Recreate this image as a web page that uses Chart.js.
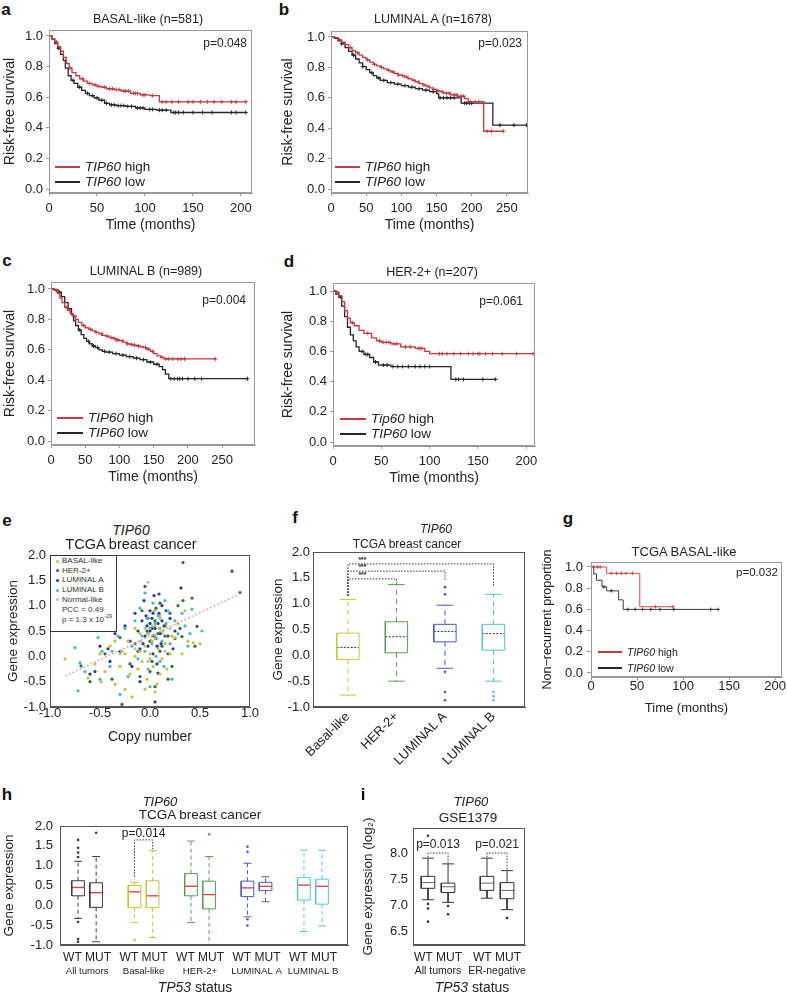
<!DOCTYPE html>
<html>
<head>
<meta charset="utf-8">
<title>TIP60 breast cancer panels</title>
<script src="https://cdn.jsdelivr.net/npm/chart.js@4.4.1/dist/chart.umd.min.js"></script>
<style>
  body { margin: 0; background: #fff; }
  #page { position: relative; width: 787px; height: 998px; overflow: hidden;
          font-family: "Liberation Sans", Arial, sans-serif; color: #222; }
  #page canvas { position: absolute; }
  .tx { position: absolute; white-space: nowrap; line-height: 1; z-index: 2; }
  .c { transform: translate(-50%, -50%); }
  .l { transform: translate(0, -50%); }
  .r { transform: translate(-100%, -50%); }
  .letter { font-weight: bold; font-size: 17px; color: #111; }
  .key { position: absolute; z-index: 2; }
  .ekey { position: absolute; border: 1px solid #333; background: #fff; z-index: 2; box-sizing: border-box; }
  .dot { position: absolute; width: 3px; height: 3px; border-radius: 50%; z-index: 3; }
  sup { font-size: 70%; }
</style>
</head>
<body>
<div id="page"></div>
<script>
// ---------------- data ----------------

// Kaplan-Meier curves: step times (months), survival after each step, censor times
const KM_Y_TICKS = [0, 0.2, 0.4, 0.6, 0.8, 1.0];

// a  BASAL-like (n=581)
const A_HIGH_T = [0, 3, 6, 9, 12, 15, 18, 21, 24, 28, 32, 36, 40, 45, 50, 55, 60, 68, 75, 85, 95, 105, 115];
const A_HIGH_S = [1.0, 0.98, 0.96, 0.93, 0.90, 0.86, 0.82, 0.79, 0.76, 0.74, 0.72, 0.705, 0.69, 0.68, 0.67, 0.665, 0.655, 0.65, 0.64, 0.625, 0.615, 0.61, 0.57];
const A_HIGH_C = [8, 22, 35, 42, 48, 52, 58, 63, 66, 70, 73, 78, 80, 83, 88, 90, 92, 98, 100, 108, 118, 122, 128, 135, 145, 150, 158, 165, 172, 180, 190, 195, 205];
const A_LOW_T = [0, 3, 6, 9, 12, 15, 17, 20, 23, 26, 30, 34, 38, 42, 47, 52, 58, 63, 70, 80, 90, 100, 112, 127];
const A_LOW_S = [1.0, 0.98, 0.95, 0.92, 0.88, 0.84, 0.79, 0.74, 0.71, 0.69, 0.665, 0.645, 0.625, 0.61, 0.595, 0.58, 0.56, 0.55, 0.545, 0.54, 0.53, 0.52, 0.515, 0.50];
const A_LOW_C = [10, 25, 32, 40, 45, 50, 55, 60, 65, 68, 72, 75, 78, 82, 86, 92, 95, 98, 105, 108, 115, 118, 122, 130, 132, 135, 140, 150, 160, 170, 190, 195, 205];
const A_X_TICKS = [0, 50, 100, 150, 200];

// b  LUMINAL A (n=1678)
const B_HIGH_T = [0, 5, 10, 15, 20, 25, 30, 35, 40, 45, 50, 55, 60, 65, 70, 75, 80, 85, 90, 95, 100, 105, 110, 115, 120, 125, 130, 135, 140, 145, 150, 155, 160, 170, 180, 190, 195, 217];
const B_HIGH_S = [1, 0.995, 0.98, 0.965, 0.95, 0.93, 0.91, 0.895, 0.88, 0.865, 0.85, 0.835, 0.82, 0.81, 0.80, 0.79, 0.78, 0.77, 0.76, 0.75, 0.745, 0.735, 0.725, 0.715, 0.705, 0.695, 0.685, 0.675, 0.665, 0.655, 0.645, 0.64, 0.63, 0.62, 0.61, 0.595, 0.575, 0.38];
const B_HIGH_C = [12, 28, 38, 52, 62, 72, 82, 88, 96, 102, 108, 118, 124, 132, 138, 146, 152, 158, 164, 168, 175, 178, 185, 188, 198, 205, 210, 222, 228, 245];
const B_LOW_T = [0, 5, 10, 15, 20, 25, 30, 35, 40, 45, 50, 55, 60, 65, 70, 80, 90, 100, 110, 120, 130, 140, 150, 153, 185, 230];
const B_LOW_S = [1, 0.99, 0.975, 0.955, 0.93, 0.905, 0.88, 0.855, 0.83, 0.805, 0.785, 0.765, 0.745, 0.73, 0.715, 0.70, 0.69, 0.68, 0.67, 0.66, 0.65, 0.64, 0.625, 0.60, 0.565, 0.42];
const B_LOW_C = [15, 32, 45, 58, 68, 75, 85, 95, 105, 115, 125, 135, 145, 155, 160, 165, 170, 175, 190, 193, 197, 200, 240, 260, 278];
const B_X_TICKS = [0, 50, 100, 150, 200, 250];

// c  LUMINAL B (n=989)
const C_HIGH_T = [0, 5, 10, 13, 16, 20, 24, 28, 32, 36, 40, 45, 50, 55, 60, 65, 70, 75, 80, 85, 90, 95, 100, 105, 110, 115, 120, 125, 130, 135, 140, 145, 150, 155, 160, 165];
const C_HIGH_S = [1, 0.99, 0.97, 0.94, 0.91, 0.88, 0.86, 0.84, 0.82, 0.80, 0.78, 0.76, 0.745, 0.735, 0.725, 0.715, 0.705, 0.695, 0.69, 0.68, 0.675, 0.665, 0.66, 0.65, 0.64, 0.635, 0.63, 0.625, 0.62, 0.615, 0.605, 0.59, 0.575, 0.56, 0.55, 0.54];
const C_HIGH_C = [8, 22, 35, 48, 58, 66, 74, 82, 88, 92, 96, 98, 104, 112, 118, 122, 128, 138, 142, 148, 162, 168, 172, 178, 185, 190, 195, 240];
const C_LOW_T = [0, 5, 10, 15, 20, 25, 30, 33, 36, 40, 44, 48, 52, 56, 60, 65, 70, 75, 80, 90, 100, 110, 120, 130, 140, 150, 158, 163, 167, 172];
const C_LOW_S = [1, 0.995, 0.98, 0.95, 0.91, 0.87, 0.83, 0.79, 0.76, 0.73, 0.70, 0.675, 0.655, 0.64, 0.625, 0.615, 0.60, 0.59, 0.585, 0.575, 0.565, 0.555, 0.545, 0.535, 0.52, 0.505, 0.49, 0.47, 0.44, 0.41];
const C_LOW_C = [12, 42, 55, 62, 68, 78, 85, 95, 105, 115, 125, 135, 145, 155, 175, 180, 185, 188, 192, 200, 210, 220, 287];
const C_X_TICKS = [0, 50, 100, 150, 200, 250];

// d  HER-2+ (n=207)
const D_HIGH_T = [0, 3, 6, 9, 12, 15, 18, 22, 27, 32, 40, 45, 50, 60, 70, 85, 95, 100];
const D_HIGH_S = [1, 0.99, 0.97, 0.93, 0.87, 0.82, 0.79, 0.77, 0.74, 0.72, 0.69, 0.67, 0.66, 0.65, 0.63, 0.62, 0.60, 0.585];
const D_HIGH_C = [5, 20, 36, 48, 52, 55, 58, 63, 66, 75, 80, 88, 90, 92, 110, 113, 118, 125, 132, 140, 145, 150, 152, 158, 165, 175, 190, 207];
const D_LOW_T = [0, 3, 6, 9, 12, 15, 18, 21, 24, 27, 32, 38, 42, 47, 60, 122];
const D_LOW_S = [1, 0.98, 0.96, 0.90, 0.83, 0.76, 0.71, 0.67, 0.63, 0.60, 0.58, 0.56, 0.53, 0.51, 0.50, 0.415];
const D_LOW_C = [8, 30, 34, 36, 44, 52, 56, 62, 67, 72, 78, 85, 90, 95, 100, 127, 130, 135, 155, 168];
const D_X_TICKS = [0, 50, 100, 150, 200];

// g  TCGA BASAL-like
const G_HIGH_T = [0, 17, 53];
const G_HIGH_S = [1, 0.94, 0.625];
const G_HIGH_C = [3, 7, 10, 22, 28, 33, 38, 45, 70, 89];
const G_LOW_T = [0, 3, 6, 12, 17, 30, 35];
const G_LOW_S = [1, 0.935, 0.875, 0.8125, 0.775, 0.69, 0.60];
const G_LOW_C = [14, 22, 40, 48, 56, 65, 75, 90, 130, 138];
const G_X_TICKS = [0, 50, 100, 150, 200];

// e  copy number vs gene expression, [copy number, expression]
const E_BASAL = [[-0.85,-0.05],[-0.62,-0.43],[-0.49,-0.5],[-0.55,-0.15],[-0.5,0.05],[-0.45,-0.3],[-0.4,0.2],[-0.35,-0.55],[-0.3,-0.2],[-0.28,0.1],[-0.25,-0.65],[-0.22,0.3],[-0.2,-0.35],[-0.18,-0.8],[-0.15,0.0],[-0.12,-0.25],[-0.1,0.45],[-0.08,-0.1],[-0.05,0.2],[-0.03,-0.45],[0.0,0.05],[0.02,0.6],[0.03,-0.2],[0.05,0.35],[0.07,-0.55],[0.08,0.15],[0.1,0.75],[0.12,-0.05],[0.13,0.5],[0.15,0.25],[0.05,-0.7],[0.2,0.05],[0.22,0.4],[0.25,0.37],[0.28,0.65],[0.32,0.05],[0.35,0.9],[0.38,0.3],[0.43,0.27],[0.5,0.25],[-0.35,0.3],[-0.15,0.55],[0.05,0.9],[0.0,-0.05],[-0.05,-0.65],[0.1,-0.35],[-0.25,0.05],[0.02,0.3],[-0.02,0.45],[0.09,0.55],[0.17,-0.25],[-0.1,0.1]];
const E_HER2 = [[-0.69,-0.19],[-0.6,-0.5],[-0.45,0.05],[-0.38,-0.45],[-0.3,0.37],[-0.28,-0.95],[-0.2,-0.15],[-0.15,0.25],[-0.1,-0.4],[-0.08,0.9],[-0.05,1.38],[-0.03,0.5],[0.0,0.3],[0.02,-0.1],[0.05,0.7],[0.08,0.45],[0.1,1.05],[0.12,0.2],[0.15,0.6],[0.18,0.05],[0.2,0.85],[0.22,-0.2],[0.25,0.35],[0.3,0.55],[0.33,1.85],[0.33,1.1],[0.32,0.39],[0.42,1.15],[0.45,0.2],[0.47,0.59],[0.82,1.68],[0.9,1.26],[-0.45,0.55],[0.0,-0.3],[0.1,0.1],[0.28,1.0],[-0.12,0.1],[0.05,-0.6],[0.06,0.95],[-0.02,0.75],[0.15,0.4],[0.18,-0.45]];
const E_LUMA = [[-0.6,-0.35],[-0.55,-0.3],[-0.5,0.2],[-0.4,-0.1],[-0.35,0.45],[-0.3,0.1],[-0.25,0.6],[-0.2,0.3],[-0.15,0.85],[-0.12,0.5],[-0.1,0.15],[-0.08,0.7],[-0.06,1.1],[-0.05,0.4],[-0.03,0.6],[-0.02,0.2],[0.0,0.9],[0.0,0.5],[0.01,0.3],[0.02,0.75],[0.03,0.05],[0.04,1.2],[0.05,0.55],[0.06,0.35],[0.07,-0.15],[0.08,0.65],[0.09,0.85],[0.1,0.45],[0.11,0.25],[0.12,1.0],[0.14,0.6],[0.08,-0.33],[0.18,0.4],[0.2,0.75],[0.23,0.15],[0.31,1.35],[0.09,1.23],[0.25,0.5],[0.05,-0.9],[-0.1,-0.5],[0.0,0.65],[-0.02,0.45],[0.03,0.85],[0.07,0.2],[-0.07,0.25],[0.12,0.7],[-0.18,-0.2],[-0.42,0.15],[0.04,0.4],[-0.04,0.8],[0.16,0.9],[0.02,0.55]];
const E_LUMB = [[-0.72,-0.68],[-0.7,-0.13],[-0.75,0.17],[-0.65,-0.3],[-0.52,0.37],[-0.5,-0.45],[-0.48,0.1],[-0.4,-0.2],[-0.38,0.1],[-0.3,-0.75],[-0.25,0.55],[-0.22,-0.4],[-0.18,0.2],[-0.15,0.7],[-0.12,-0.05],[-0.1,0.95],[-0.08,0.4],[-0.05,0.1],[-0.03,0.75],[-0.02,-0.25],[0.0,0.55],[0.02,0.25],[0.03,1.05],[0.05,0.4],[0.06,0.0],[0.08,0.8],[0.1,0.55],[0.12,0.3],[0.14,-0.2],[0.16,0.65],[0.18,0.9],[0.2,0.25],[0.22,-0.45],[0.25,0.7],[0.28,0.45],[0.32,0.85],[0.35,0.6],[0.38,0.2],[0.42,0.93],[0.4,0.45],[0.52,0.5],[-0.55,0.55],[-0.32,0.4],[0.0,-0.6],[-0.05,1.25],[0.15,1.1],[0.05,0.65],[-0.6,0.75],[0.1,-0.1]];
const E_NORMAL = [[-0.3,0.05],[-0.1,0.3],[-0.02,1.46],[0.02,0.4],[0.05,0.6],[0.08,0.2],[-0.05,0.55],[0.1,0.8],[0.12,0.45],[0.15,0.1],[-0.02,-0.1],[0.04,0.9],[-0.15,0.15],[0.2,0.55]];
const E_FIT_X = [-0.85, 0.92];
const E_FIT_Y = [-0.39, 1.25];
const E_X_TICKS = [-1, -0.5, 0, 0.5, 1];
const GE_Y_TICKS = [-1, -0.5, 0, 0.5, 1, 1.5, 2];

// f  expression by subtype (box stats)
const F_CATS = ['Basal-like', 'HER-2+', 'LUMINAL A', 'LUMINAL B'];
const F_POS = [1, 2, 3, 4];
const F_LOW = [-0.77, -0.5, -0.25, -0.5];
const F_Q1 = [-0.08, 0.05, 0.26, 0.10];
const F_MED = [0.15, 0.36, 0.46, 0.42];
const F_Q3 = [0.43, 0.65, 0.60, 0.60];
const F_HIGH = [1.08, 1.37, 0.97, 1.18];
const F_OUT = [[], [], [1.32, 1.18, -0.32, -0.71, -0.87], [-0.71, -0.79, -0.87]];
const F_SIG_FROM = [1, 1, 1];
const F_SIG_TO = [4, 3, 2];
const F_SIG_TOP = [1.77, 1.63, 1.48];
const F_SIG_Y0 = [1.15, 1.15, 1.15];
const F_SIG_Y1 = [1.32, 1.45, 1.39];
const F_SIG_TEXT = ['***', '***', '***'];

// h  TCGA by TP53 status (box stats, WT then MUT per group)
const H_GROUPS = ['All tumors', 'Basal-like', 'HER-2+', 'LUMINAL A', 'LUMINAL B'];
const H_POS = [0, 1, 2, 3, 4];
const H_WT_LOW = [-0.33, -0.43, -0.43, -0.29, -0.66];
const H_WT_Q1 = [0.24, -0.06, 0.24, 0.22, 0.13];
const H_WT_MED = [0.45, 0.34, 0.48, 0.44, 0.51];
const H_WT_Q3 = [0.62, 0.50, 0.80, 0.61, 0.70];
const H_WT_HIGH = [1.11, 0.58, 1.62, 1.06, 1.39];
const H_WT_OUT = [[1.65, 1.45, 1.33, 1.22, -0.42, -0.85, -0.92], [-0.87], [], [1.48, 1.35, -0.35, -0.51], []];
const H_MUT_LOW = [-0.92, -0.81, -1.0, 0.09, -0.52];
const H_MUT_Q1 = [-0.05, -0.06, -0.09, 0.37, 0.03];
const H_MUT_MED = [0.32, 0.24, 0.27, 0.48, 0.48];
const H_MUT_Q3 = [0.57, 0.62, 0.61, 0.58, 0.66];
const H_MUT_HIGH = [1.23, 1.38, 1.23, 0.72, 1.39];
const H_MUT_OUT = [[1.83], [], [1.79], [], []];
const H_SIG = [1, 0.72, 1.65, 1.42];   // group, WT start, top, MUT end
const H_SIG_TEXT = 'p=0.014';

// i  GSE1379 by TP53 status
const I_GROUPS = ['All tumors', 'ER-negative'];
const I_POS = [0, 1];
const I_WT_LOW = [7.10, 7.13];
const I_WT_Q1 = [7.32, 7.28];
const I_WT_MED = [7.43, 7.42];
const I_WT_Q3 = [7.55, 7.55];
const I_WT_HIGH = [7.90, 7.90];
const I_WT_OUT = [[8.33, 7.02, 6.93, 6.68], []];
const I_MUT_LOW = [7.05, 6.91];
const I_MUT_Q1 = [7.24, 7.12];
const I_MUT_MED = [7.35, 7.28];
const I_MUT_Q3 = [7.42, 7.43];
const I_MUT_HIGH = [7.79, 7.66];
const I_MUT_OUT = [[6.98, 6.82], [6.75]];
const I_SIG_TOP = [8.0, 8.0];
const I_SIG_Y0 = [7.92, 7.92];
const I_SIG_Y1 = [7.81, 7.68];
const I_SIG_TEXT = ['p=0.013', 'p=0.021'];
const I_Y_TICKS = [6.5, 7.0, 7.5, 8.0];

// ---------------- styles ----------------
const RED = '#c23b3f', BLACK = '#262626', KM_FRAME = '#9a9a9a', FRAME = '#555';
const SUBTYPE_COLORS = ['#c8c53c', '#5d9a57', '#4b58bd', '#57c2cc'];
const H_COLORS = ['#3a3a3a', '#c8c23c', '#5b9a55', '#4d5bbf', '#5cc6d0'];
const E_COLORS = { basal: '#c3c23a', her2: '#2f6e35', luma: '#27399b', lumb: '#48b6c4', normal: '#bdbdbd' };
const H_PAIR = 0.32, I_PAIR = 0.34;
const FONT = '"Liberation Sans", Arial, sans-serif';

Chart.defaults.font.family = FONT;
Chart.defaults.color = '#222';
Chart.defaults.elements.point.radius = 0;
Chart.defaults.elements.point.hitRadius = 0;
Chart.defaults.elements.line.borderWidth = 1;

const page = document.getElementById('page');
const f1 = v => v.toFixed(1);
const f0 = v => String(v);

function canvasFor(area, m) {
  const c = document.createElement('canvas');
  const w = area.R - area.L + m.l + m.r, h = area.B - area.T + m.t + m.b;
  c.width = w; c.height = h;
  c.style.width = w + 'px'; c.style.height = h + 'px';
  c.style.left = (area.L - m.l) + 'px'; c.style.top = (area.T - m.t) + 'px';
  page.appendChild(c);
  return c;
}

function axis(pos, min, max, ticks, fit, o) {
  const horiz = pos === 'bottom';
  return {
    type: 'linear', position: pos, min: min, max: max,
    afterBuildTicks: s => { s.ticks = ticks.map(v => ({ value: v })); },
    afterFit: s => {
      if (horiz) s.height = fit; else s.width = fit;
      s.paddingLeft = 0; s.paddingRight = 0; s.paddingTop = 0; s.paddingBottom = 0;
    },
    grid: { display: true, drawOnChartArea: false, drawTicks: (o.tick || 0) > 0, tickLength: o.tick || 0, color: o.border },
    border: { display: true, color: o.border },
    ticks: { autoSkip: false, padding: o.pad, minRotation: o.rot || 0, maxRotation: o.rot || 0,
             font: { size: o.size || 13, lineHeight: 1.2 }, color: '#222', callback: o.fmt },
    title: o.title
      ? { display: true, text: o.title, color: '#222', font: { size: o.tsize || 14 },
          padding: horiz ? { top: 0, bottom: 0 } : { top: o.tpad == null ? 2 : o.tpad, bottom: 0 } }
      : { display: false }
  };
}

function frame(color) {
  return { id: 'frame', afterDatasetsDraw(chart) {
    const a = chart.chartArea, ctx = chart.ctx;
    ctx.save(); ctx.strokeStyle = color; ctx.lineWidth = 1;
    ctx.strokeRect(Math.round(a.left) + 0.5, Math.round(a.top) + 0.5,
                   Math.round(a.right - a.left) - 1, Math.round(a.bottom - a.top) - 1);
    ctx.restore();
  } };
}

// text placed at data coordinates (p-values, significance stars)
function notes(xs, ys, labels, font) {
  return { id: 'notes', afterDatasetsDraw(chart) {
    const ctx = chart.ctx, sx = chart.scales.x, sy = chart.scales.y;
    ctx.save(); ctx.font = font; ctx.fillStyle = '#222';
    ctx.textAlign = 'center'; ctx.textBaseline = 'middle';
    labels.forEach((t, i) => ctx.fillText(t, sx.getPixelForValue(xs[i]), sy.getPixelForValue(ys[i])));
    ctx.restore();
  } };
}

// second row of category names under the WT/MUT tick labels
function underLabels(xs, labels, dy, font) {
  return { id: 'under', afterDraw(chart) {
    const ctx = chart.ctx, sx = chart.scales.x;
    ctx.save(); ctx.font = font; ctx.fillStyle = '#222';
    ctx.textAlign = 'center'; ctx.textBaseline = 'middle';
    labels.forEach((t, i) => ctx.fillText(t, sx.getPixelForValue(xs[i]), chart.chartArea.bottom + dy));
    ctx.restore();
  } };
}

function plot(area, m, datasets, x, y, extra) {
  return new Chart(canvasFor(area, m), {
    type: 'line',
    data: { datasets: datasets },
    options: {
      responsive: false, devicePixelRatio: 1, animation: false, events: [],
      layout: { padding: { left: 0, top: m.t, right: m.r, bottom: 0 } },
      plugins: { legend: { display: false }, tooltip: { enabled: false } },
      scales: { x: x, y: y }
    },
    plugins: extra
  });
}

// KM step curve with censor marks placed on the step they belong to
function kmSet(t, s, cens, color, width, mark) {
  const pts = t.map((x, i) => ({ x: x, y: s[i], c: 0 }));
  cens.forEach(x => {
    let y = s[0];
    t.forEach((tt, i) => { if (tt <= x) y = s[i]; });
    pts.push({ x: x, y: y, c: 1 });
  });
  pts.sort((p, q) => p.x - q.x);
  return {
    data: pts, borderColor: color, borderWidth: width, stepped: true,
    pointStyle: 'cross', pointRadius: c => (c.raw && c.raw.c ? mark : 0),
    pointBorderColor: color, pointBorderWidth: 1
  };
}

function kmChart(area, m, sets, xmax, xticks, ymin, ymax, o) {
  return plot(area, m, sets,
    axis('bottom', 0, xmax, xticks, m.b, { border: KM_FRAME, tick: 3, pad: o.xpad, size: o.size, fmt: f0, title: 'Time (months)', tsize: o.tsize }),
    axis('left', ymin, ymax, KM_Y_TICKS, m.l, { border: KM_FRAME, tick: o.ytick, pad: o.ypad, size: o.size, fmt: f1, title: o.ytitle, tsize: o.ytsize || o.tsize, tpad: o.tpad }),
    [frame(KM_FRAME)]);
}

function line(data, color, extra) {
  return Object.assign({ data: data, borderColor: color, borderWidth: 1, pointRadius: 0 }, extra || {});
}

function boxSets(x, lo, q1, med, q3, hi, out, color, o) {
  const w = o.w, cw = o.cap;
  return [
    line([{ x: x - w, y: q1 }, { x: x + w, y: q1 }, { x: x + w, y: q3 }, { x: x - w, y: q3 }, { x: x - w, y: q1 }], color),
    line([{ x: x, y: q3 }, { x: x, y: hi }, { x: null, y: null }, { x: x, y: q1 }, { x: x, y: lo }], color, { borderDash: o.dash }),
    line([{ x: x - cw, y: hi }, { x: x + cw, y: hi }, { x: null, y: null }, { x: x - cw, y: lo }, { x: x + cw, y: lo }], color),
    line([{ x: x - w, y: med }, { x: x + w, y: med }], o.medColor, { borderDash: o.medDash, borderWidth: o.medWidth || 1 }),
    { data: out.map(v => ({ x: x, y: v })), showLine: false, pointRadius: 1.3, pointStyle: 'circle',
      pointBackgroundColor: color, pointBorderColor: color, pointBorderWidth: 0 }
  ];
}

function bracket(x0, x1, y0, top, y1) {
  return line([{ x: x0, y: y0 }, { x: x0, y: top }, { x: x1, y: top }, { x: x1, y: y1 }], '#333', { borderDash: [1.5, 1.5] });
}

// ---------------- html text helpers ----------------
function put(x, y, html, cls, css) {
  const d = document.createElement('div');
  d.className = 'tx ' + cls;
  d.style.left = x + 'px'; d.style.top = y + 'px';
  d.innerHTML = html;
  if (css) d.style.cssText += css;
  page.appendChild(d);
}
function keyLine(x, y, len, color, w) {
  const d = document.createElement('div');
  d.className = 'key';
  d.style.cssText += 'left:' + x + 'px;top:' + Math.round(y - w / 2) + 'px;width:' + len + 'px;height:' + w + 'px;background:' + color;
  page.appendChild(d);
}
function kmKey(x, y1, y2, len, size, gene1) {
  keyLine(x, y1, len, RED, 2); keyLine(x, y2, len, BLACK, 2);
  put(x + len + 5, y1, '<i>' + gene1 + '</i> high', 'l', 'font-size:' + size + 'px');
  put(x + len + 5, y2, '<i>TIP60</i> low', 'l', 'font-size:' + size + 'px');
}

// ---------------- panels a-d, g: Kaplan-Meier ----------------
const KM_O = { size: 13, tsize: 14, xpad: 5, ypad: 3, ytick: 3, ytitle: 'Risk-free survival' };

kmChart({ L: 49, T: 30, R: 252, B: 193 }, { l: 49, t: 10, r: 14, b: 41 },
  [kmSet(A_HIGH_T, A_HIGH_S, A_HIGH_C, RED, 1.3, 2), kmSet(A_LOW_T, A_LOW_S, A_LOW_C, BLACK, 1.3, 2)],
  211.5, A_X_TICKS, -0.026, 1.039, KM_O);
kmChart({ L: 331, T: 31, R: 528, B: 193 }, { l: 53, t: 10, r: 14, b: 41 },
  [kmSet(B_HIGH_T, B_HIGH_S, B_HIGH_C, RED, 1.3, 2), kmSet(B_LOW_T, B_LOW_S, B_LOW_C, BLACK, 1.3, 2)],
  280, B_X_TICKS, -0.026, 1.039, KM_O);
kmChart({ L: 51, T: 282, R: 255, B: 445 }, { l: 51, t: 10, r: 14, b: 41 },
  [kmSet(C_HIGH_T, C_HIGH_S, C_HIGH_C, RED, 1.3, 2), kmSet(C_LOW_T, C_LOW_S, C_LOW_C, BLACK, 1.3, 2)],
  298, C_X_TICKS, -0.026, 1.046, KM_O);
kmChart({ L: 333, T: 283, R: 535, B: 446 }, { l: 55, t: 10, r: 14, b: 41 },
  [kmSet(D_HIGH_T, D_HIGH_S, D_HIGH_C, RED, 1.3, 2), kmSet(D_LOW_T, D_LOW_S, D_LOW_C, BLACK, 1.3, 2)],
  209, D_X_TICKS, -0.026, 1.053, KM_O);
kmChart({ L: 591, T: 562, R: 785, B: 677 }, { l: 53, t: 30, r: 2, b: 39 },
  [kmSet(G_HIGH_T, G_HIGH_S, G_HIGH_C, '#d04a4a', 1, 1.8), kmSet(G_LOW_T, G_LOW_S, G_LOW_C, '#3a3a3a', 1, 1.8)],
  207.5, G_X_TICKS, -0.038, 1.047,
  { size: 13, tsize: 13, ytsize: 12.5, xpad: -1, ypad: 4, ytick: 4, ytitle: 'Non\u2212recurrent proportion' });

// ---------------- panel e: scatter ----------------
const ptSet = (pts, color) => ({ data: pts.map(p => ({ x: p[0], y: p[1] })), showLine: false,
  pointRadius: 1.6, pointStyle: 'circle', pointBackgroundColor: color, pointBorderWidth: 0 });
plot({ L: 50, T: 555, R: 250, B: 707 }, { l: 47, t: 10, r: 14, b: 39 },
  [
    line(E_FIT_X.map((x, i) => ({ x: x, y: E_FIT_Y[i] })), '#c9a5a5', { borderDash: [2, 2], borderWidth: 1.3 }),
    ptSet(E_BASAL, E_COLORS.basal), ptSet(E_LUMB, E_COLORS.lumb), ptSet(E_HER2, E_COLORS.her2),
    ptSet(E_LUMA, E_COLORS.luma), ptSet(E_NORMAL, E_COLORS.normal)
  ],
  axis('bottom', -1, 1, E_X_TICKS, 39, { border: FRAME, tick: 0, pad: -1, size: 13, fmt: f1, title: 'Copy number', tsize: 14 }),
  axis('left', -1, 2, GE_Y_TICKS, 47, { border: FRAME, tick: 0, pad: 4, size: 13, fmt: f1, title: 'Gene expression', tsize: 13.5, tpad: 2 }),
  [frame(FRAME)]);

// ---------------- panel f: boxplots by subtype ----------------
let fSets = [];
F_POS.forEach((x, i) => {
  fSets = fSets.concat(boxSets(x, F_LOW[i], F_Q1[i], F_MED[i], F_Q3[i], F_HIGH[i], F_OUT[i], SUBTYPE_COLORS[i],
    { w: 0.23, cap: 0.17, dash: [5, 4], medColor: '#333', medDash: [2, 1.5] }));
});
F_SIG_FROM.forEach((x0, i) => fSets.push(bracket(x0, F_SIG_TO[i], F_SIG_Y0[i], F_SIG_TOP[i], F_SIG_Y1[i])));
plot({ L: 313, T: 552, R: 525, B: 707 }, { l: 45, t: 10, r: 8, b: 80 }, fSets,
  axis('bottom', 0.28, 4.65, F_POS, 80, { border: FRAME, tick: 0, pad: 2, size: 13, rot: 45, fmt: (v, i) => F_CATS[i] }),
  axis('left', -1, 2, GE_Y_TICKS, 45, { border: FRAME, tick: 0, pad: 3, size: 13, fmt: f1, title: 'Gene expression', tsize: 13.5, tpad: 2 }),
  [frame(FRAME), notes(F_SIG_FROM.map(x => x + 0.3), F_SIG_TOP.map(y => y + 0.07), F_SIG_TEXT, 'bold 7px ' + FONT)]);

// ---------------- panel h: TP53 status in TCGA ----------------
let hSets = [];
H_POS.forEach((g, i) => {
  const o = { w: 0.112, cap: 0.07, dash: [4, 3], medColor: '#e03a3a', medWidth: 1.3 };
  hSets = hSets.concat(boxSets(g, H_WT_LOW[i], H_WT_Q1[i], H_WT_MED[i], H_WT_Q3[i], H_WT_HIGH[i], H_WT_OUT[i], H_COLORS[i], o));
  hSets = hSets.concat(boxSets(g + H_PAIR, H_MUT_LOW[i], H_MUT_Q1[i], H_MUT_MED[i], H_MUT_Q3[i], H_MUT_HIGH[i], H_MUT_OUT[i], H_COLORS[i], o));
});
hSets.push(bracket(H_SIG[0], H_SIG[0] + H_PAIR, H_SIG[1], H_SIG[2], H_SIG[3]));
const H_MID = H_POS.map(g => g + H_PAIR / 2);
plot({ L: 60, T: 826, R: 348, B: 945 }, { l: 60, t: 10, r: 10, b: 36 }, hSets,
  axis('bottom', -0.32, 4.78, H_MID, 36, { border: FRAME, tick: 0, pad: 5, size: 12, fmt: () => 'WT MUT' }),
  axis('left', -1, 2, GE_Y_TICKS, 60, { border: FRAME, tick: 0, pad: 7, size: 13, fmt: f1, title: 'Gene expression', tsize: 13.5, tpad: 1 }),
  [frame(FRAME), notes([H_SIG[0] + H_PAIR / 2], [H_SIG[2] + 0.15], [H_SIG_TEXT], '12px ' + FONT),
   underLabels(H_MID, H_GROUPS, 26, '9.6px ' + FONT)]);

// ---------------- panel i: TP53 status in GSE1379 ----------------
let iSets = [];
I_POS.forEach((g, i) => {
  const o = { w: 0.115, cap: 0.1, dash: [], medColor: '#666' };
  iSets = iSets.concat(boxSets(g, I_WT_LOW[i], I_WT_Q1[i], I_WT_MED[i], I_WT_Q3[i], I_WT_HIGH[i], I_WT_OUT[i], '#333', o));
  iSets = iSets.concat(boxSets(g + I_PAIR, I_MUT_LOW[i], I_MUT_Q1[i], I_MUT_MED[i], I_MUT_Q3[i], I_MUT_HIGH[i], I_MUT_OUT[i], '#333', o));
  iSets.push(bracket(g, g + I_PAIR, I_SIG_Y0[i], I_SIG_TOP[i], I_SIG_Y1[i]));
});
const I_MID = I_POS.map(g => g + I_PAIR / 2);
plot({ L: 413, T: 828, R: 525, B: 945 }, { l: 55, t: 10, r: 14, b: 36 }, iSets,
  axis('bottom', -0.254, 1.644, I_MID, 36, { border: FRAME, tick: 0, pad: 5, size: 12, fmt: () => 'WT MUT' }),
  axis('left', 6.23, 8.48, I_Y_TICKS, 55, { border: FRAME, tick: 0, pad: 5, size: 13, fmt: f1, title: 'Gene expression (log\u2082)', tsize: 13.5, tpad: 2 }),
  [frame(FRAME), notes(I_MID, I_SIG_TOP.map(y => y + 0.15), I_SIG_TEXT, '12px ' + FONT),
   underLabels(I_MID, I_GROUPS, 26, '10.5px ' + FONT)]);

// ---------------- titles, legends, letters ----------------
put(6, 9, 'a', 'c letter'); put(284, 9, 'b', 'c letter'); put(7, 260, 'c', 'c letter');
put(289, 261, 'd', 'c letter'); put(7, 520, 'e', 'c letter'); put(295, 517, 'f', 'c letter');
put(568, 518, 'g', 'c letter'); put(7, 794, 'h', 'c letter'); put(363, 794, 'i', 'c letter');

put(148, 19, 'BASAL-like (n=581)', 'c', 'font-size:12.5px');
put(433, 19, 'LUMINAL A (n=1678)', 'c', 'font-size:12.5px');
put(146, 271, 'LUMINAL B (n=989)', 'c', 'font-size:12.5px');
put(432, 272, 'HER-2+ (n=207)', 'c', 'font-size:12.5px');
put(684, 551, 'TCGA BASAL-like', 'c', 'font-size:13px');

put(131, 530, '<i>TIP60</i>', 'c', 'font-size:14px');
put(131, 544, 'TCGA breast cancer', 'c', 'font-size:14.5px');
put(436, 529, '<i>TIP60</i>', 'c', 'font-size:12px');
put(407, 544, 'TCGA breast cancer', 'c', 'font-size:12px');
put(160, 801, '<i>TIP60</i>', 'c', 'font-size:13px');
put(200, 815, 'TCGA breast cancer', 'c', 'font-size:13.5px');
put(471, 801, '<i>TIP60</i>', 'c', 'font-size:13px');
put(468, 818, 'GSE1379', 'c', 'font-size:13.5px');

put(247, 43, 'p=0.048', 'r', 'font-size:12px');
put(522, 43, 'p=0.023', 'r', 'font-size:12px');
put(246, 300, 'p=0.004', 'r', 'font-size:12px');
put(523, 301, 'p=0.061', 'r', 'font-size:12px');
put(778, 573, 'p=0.032', 'r', 'font-size:11.5px');

kmKey(55, 167, 182, 25, 13.5, 'TIP60');
kmKey(335, 167, 182, 25, 13.5, 'TIP60');
kmKey(57, 418, 433, 26, 13.5, 'TIP60');
kmKey(340, 419, 434, 26, 13.5, 'Tip60');
kmKey(598, 652, 668, 24, 10.5, 'TIP60');

put(195, 987, '<i>TP53</i> status', 'c', 'font-size:14px');
put(472, 987, '<i>TP53</i> status', 'c', 'font-size:14px');

// legend box of panel e
const ek = document.createElement('div');
ek.className = 'ekey';
ek.style.cssText += 'left:50px;top:555px;width:67px;height:77px';
page.appendChild(ek);
const E_KEY = [['BASAL-like', E_COLORS.basal], ['HER-2+', E_COLORS.her2], ['LUMINAL A', E_COLORS.luma],
               ['LUMINAL B', E_COLORS.lumb], ['Normal-like', E_COLORS.normal]];
E_KEY.forEach((k, i) => {
  const y = 561 + i * 9.7;
  const d = document.createElement('div');
  d.className = 'dot';
  d.style.cssText += 'left:55.5px;top:' + (y - 1.5) + 'px;background:' + k[1];
  page.appendChild(d);
  put(62, y, k[0], 'l', 'font-size:8px;color:#333');
});
put(62, 609.5, 'PCC = 0.49', 'l', 'font-size:8px;color:#333');
put(62, 619, 'p = 1.3 x 10<sup>-29</sup>', 'l', 'font-size:8px;color:#333');
</script>
</body>
</html>
